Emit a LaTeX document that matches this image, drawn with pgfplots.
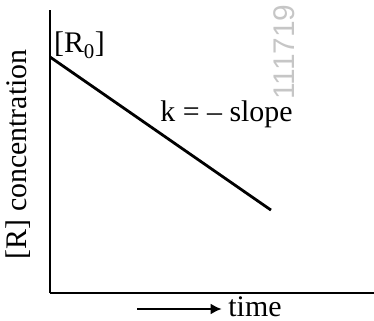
\documentclass[border=0pt]{standalone}
\usepackage{pgfplots}
\pgfplotsset{compat=1.18}
\usepackage{fontspec}
\setmainfont{Liberation Serif}
\newfontfamily\wmfont{Liberation Sans}
\usetikzlibrary{arrows.meta}

\begin{document}
\begin{tikzpicture}
\path[use as bounding box] (-50bp,-28bp) rectangle (324bp,293bp);
\begin{axis}[
  at={(0,0)}, anchor=origin,
  scale only axis, width=324bp, height=283bp,
  xmin=0, xmax=10, ymin=0, ymax=10,
  axis lines*=left, axis line style={line width=2.8bp, black},
  xtick=\empty, ytick=\empty,
  clip=false,
  font=\fontsize{30}{36}\selectfont,
]
\addplot[line width=2.8bp, black] coordinates {(0,8.34) (6.82,2.93)};
\node[anchor=west, inner sep=0pt] at (axis cs:0.12,8.76) {[R\textsubscript{0}]};
\node[anchor=west, inner sep=0pt] at (axis cs:3.40,6.30) {k = – slope};
\node[rotate=90, inner sep=0pt] at ([xshift=-32bp]rel axis cs:0,0.49) {[R] concentration};
\draw[line width=2.2bp, -{Latex[length=11bp,width=11bp]}] ([yshift=-16bp]rel axis cs:0.27,0) -- ([yshift=-16bp]rel axis cs:0.53,0);
\node[anchor=west, inner sep=0pt] at ([yshift=-14bp]rel axis cs:0.55,0) {time};
\node[rotate=90, anchor=west, inner sep=0pt, text=gray!45, font=\fontsize{30}{36}\wmfont] at (rel axis cs:0.722,0.682) {111719};
\end{axis}
\end{tikzpicture}
\end{document}
